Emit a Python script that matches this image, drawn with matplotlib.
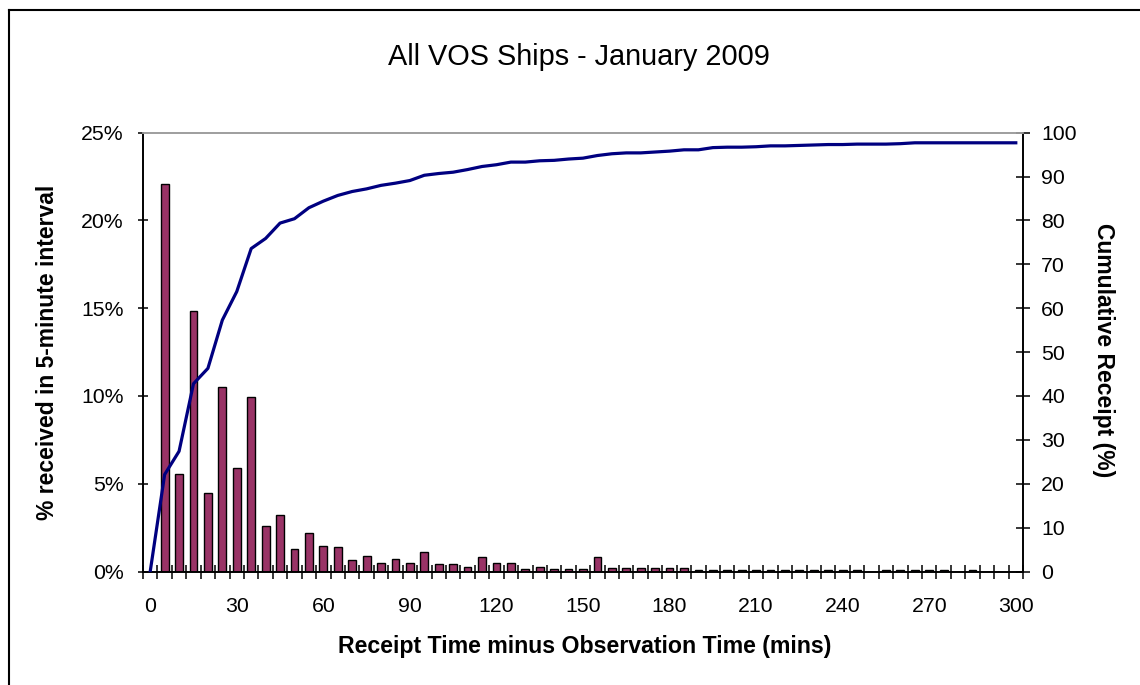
import matplotlib
matplotlib.use("Agg")
import matplotlib.pyplot as plt
from matplotlib.ticker import FixedLocator, FuncFormatter
from matplotlib.lines import Line2D
import numpy as np

plt.rcParams['font.family'] = ['Liberation Sans', 'DejaVu Sans']

# Categories: receipt minus observation time (mins), one every 5 minutes
minutes = list(range(0, 301, 5))

# % received in each 5-minute interval (bars)
pct_interval = [
    0.00, 22.08, 5.56, 14.86, 4.48, 10.50, 5.88, 9.97, 2.58, 3.21,
    1.29, 2.20, 1.48, 1.38, 0.68, 0.89, 0.51, 0.70, 0.51, 1.10,
    0.40, 0.42, 0.28, 0.80, 0.49, 0.49, 0.17, 0.28, 0.17, 0.17,
    0.17, 0.80, 0.19, 0.19, 0.19, 0.19, 0.19, 0.19, 0.08, 0.08,
    0.08, 0.08, 0.08, 0.08, 0.08, 0.08, 0.08, 0.08, 0.08, 0.08,
    0.00, 0.08, 0.08, 0.08, 0.08, 0.08, 0.00, 0.08, 0.00, 0.00,
    0.00,
]

# Cumulative receipt (%) (line)
cumulative = [
    0.0, 22.1, 27.4, 42.8, 46.3, 57.3, 63.8, 73.6, 75.9, 79.4,
    80.4, 82.9, 84.4, 85.7, 86.6, 87.2, 88.0, 88.5, 89.1, 90.3,
    90.7, 91.0, 91.6, 92.3, 92.7, 93.3, 93.3, 93.6, 93.7, 94.0,
    94.2, 94.8, 95.2, 95.4, 95.4, 95.6, 95.8, 96.1, 96.1, 96.6,
    96.7, 96.7, 96.8, 97.0, 97.0, 97.1, 97.2, 97.3, 97.3, 97.4,
    97.4, 97.4, 97.5, 97.7, 97.7, 97.7, 97.7, 97.7, 97.7, 97.7,
    97.7,
]

x_labels = [0, 30, 60, 90, 120, 150, 180, 210, 240, 270, 300]
left_ticks = [0, 5, 10, 15, 20, 25]
right_ticks = list(range(0, 101, 10))

title = "All VOS Ships - January 2009"
xlabel = "Receipt Time minus Observation Time (mins)"
ylabel_left = "% received in 5-minute interval"
ylabel_right = "Cumulative Receipt (%)"

W, H = 1140, 685
fig = plt.figure(figsize=(W / 100, H / 100), dpi=100)
fig.patch.set_facecolor('white')

left, right, top, bottom = 143, 1023, 132.7, 571.5
ax = fig.add_axes([left / W, 1 - bottom / H, (right - left) / W, (bottom - top) / H])
ax2 = ax.twinx()

ax.bar(minutes, pct_interval, width=2.7, color='#993366', edgecolor='black', linewidth=1.0, zorder=2)
ax.set_xlim(-2.5, 302.5)
ax.set_ylim(0, 25)
ax.set_yticks(left_ticks)
ax.yaxis.set_major_formatter(FuncFormatter(lambda v, p: f"{int(round(v))}%"))

ax.set_xticks(x_labels)
ax.xaxis.set_minor_locator(FixedLocator(np.arange(-2.5, 303, 5)))
ax.tick_params(axis='x', which='major', length=0, pad=18, labelsize=15.3)
ax.tick_params(axis='x', which='minor', direction='inout', length=9.5, width=1.1, color='black')
ax.tick_params(axis='y', which='major', direction='inout', length=7.5, width=1.1, pad=10, labelsize=15.3)

ax2.plot(minutes, cumulative, color='#000080', linewidth=2.3, zorder=3, solid_joinstyle='round')
ax2.set_ylim(0, 100)
ax2.set_yticks(right_ticks)
ax2.tick_params(axis='y', direction='inout', length=10, width=1.1, pad=8, labelsize=15.3)

for a in (ax, ax2):
    a.spines['top'].set_color('#a0a0a0')
    a.spines['top'].set_linewidth(1.3)
    a.spines['left'].set_color('black')
    a.spines['right'].set_color('black')
    a.spines['bottom'].set_color('black')
    for s in ('left', 'right', 'bottom'):
        a.spines[s].set_linewidth(1.2)
ax.patch.set_visible(False)

fig.text(579 / W, 1 - 57 / H, title, ha='center', va='center', fontsize=20.8)
fig.text(585 / W, 1 - 646 / H, xlabel, ha='center', va='center', fontsize=16.7, fontweight='bold')
fig.text(48 / W, 1 - 352 / H, ylabel_left, ha='center', va='center', rotation=90,
         fontsize=16.5, fontweight='bold')
fig.text(1103 / W, 1 - 350 / H, ylabel_right, ha='center', va='center', rotation=-90,
         fontsize=16.5, fontweight='bold')

# outer chart-area border (left and top edges visible)
fig.add_artist(Line2D([8.5 / W, 8.5 / W], [0, 1 - 10 / H], transform=fig.transFigure,
                      color='black', linewidth=1.5))
fig.add_artist(Line2D([8.5 / W, 1], [1 - 10 / H, 1 - 10 / H], transform=fig.transFigure,
                      color='black', linewidth=1.5))

fig.savefig('out.png', dpi=100, facecolor='white')
